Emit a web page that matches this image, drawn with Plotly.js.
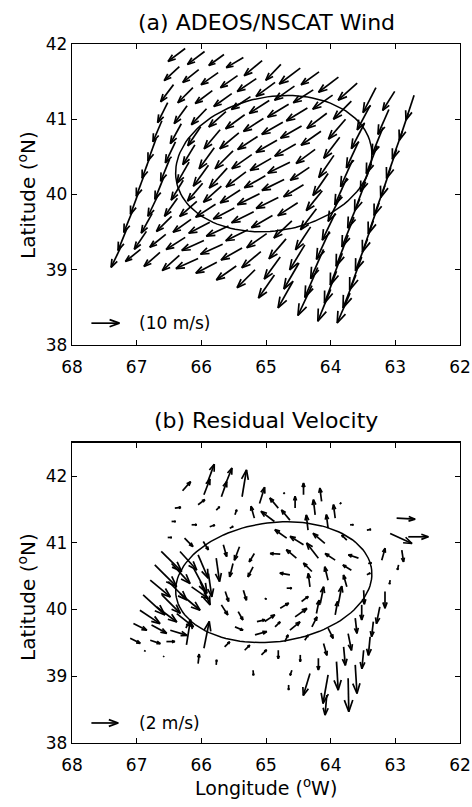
<!DOCTYPE html>
<html><head><meta charset="utf-8">
<script src="https://cdn.plot.ly/plotly-3.0.1.min.js"></script>
<style>html,body{margin:0;padding:0;background:#fff}#chart{width:472px;height:807px}</style>
</head><body><div id="chart"></div>
<script>
// ---------- DATA ----------
// (a) NSCAT wind swath: cell positions = row start + cross-track offset (deg)
const windRowLon = [66.25,66.34,66.43,66.52,66.61,66.70,66.79,66.88,66.97,67.06,67.15,67.24];
const windRowLat = [41.94,41.70,41.46,41.22,40.98,40.74,40.51,40.27,40.03,39.79,39.55,39.31];
const windColDLon = [0,-0.30,-0.60,-0.90,-1.19,-1.48,-1.78,-2.07,-2.37,-2.66,-2.95,-3.24,-3.54];
const windColDLat = [0,-0.04,-0.08,-0.12,-0.16,-0.21,-0.26,-0.31,-0.38,-0.46,-0.52,-0.57,-0.62];
// wind components (m/s), rows x cross-track cells
const windU = [
 [-6.1,-6.1,-5.4,-6.1,-6.4,-5.4,-7.5,-6.4,-7.1,-6.8,-4.6,-4.3,-2.9],
 [-5.4,-5.7,-6.1,-6.1,-6.8,-6.8,-7.1,-7.1,-7.1,-6.4,-4.6,-3.9,-3.2],
 [-4.6,-5.4,-6.1,-6.4,-6.8,-7.1,-7.5,-7.5,-7.1,-6.1,-4.6,-3.9,-3.6],
 [-3.6,-4.6,-5.4,-6.1,-6.8,-7.1,-7.5,-7.5,-7.1,-5.7,-4.3,-3.9,-3.6],
 [-3.2,-3.9,-4.6,-5.7,-6.8,-7.1,-7.5,-7.5,-6.8,-5.4,-4.3,-3.9,-3.6],
 [-2.9,-3.6,-4.3,-5.4,-6.4,-7.1,-7.5,-7.9,-6.8,-5.4,-4.3,-3.9,-3.9],
 [-2.9,-3.2,-4.3,-5.4,-6.4,-7.1,-7.5,-7.9,-7.1,-5.7,-4.6,-4.3,-3.9],
 [-2.9,-3.2,-4.3,-5.4,-6.4,-7.1,-7.9,-7.9,-7.1,-5.7,-4.6,-4.3,-3.9],
 [-2.9,-3.6,-4.6,-6.1,-7.1,-7.5,-7.9,-7.5,-6.4,-5.4,-4.6,-4.3,-4.3],
 [-3.2,-3.9,-5.4,-6.4,-7.5,-7.9,-7.9,-7.1,-6.1,-5.4,-4.6,-4.3,-4.3],
 [-3.2,-4.3,-5.7,-6.8,-7.9,-7.9,-7.5,-6.8,-5.7,-5.4,-4.6,-4.3,-4.6],
 [-3.6,-5.4,-5.7,-6.1,-7.9,-7.5,-7.1,-6.4,-5.7,-5.4,-5.0,-4.6,-4.6]
];
const windV = [
 [-4.6,-4.6,-3.9,-3.6,-5.4,-5.7,-5.7,-4.6,-5.4,-6.1,-8.9,-6.8,-8.9],
 [-5.0,-4.6,-4.3,-4.3,-4.6,-5.0,-5.0,-4.6,-5.0,-6.4,-8.6,-8.9,-9.6],
 [-6.1,-5.4,-4.6,-4.6,-4.6,-4.6,-4.6,-4.6,-5.4,-7.1,-8.9,-9.6,-10.0],
 [-7.1,-6.4,-5.7,-5.4,-5.0,-4.6,-4.3,-4.3,-5.0,-7.5,-9.3,-10.0,-10.4],
 [-7.5,-7.1,-6.8,-6.8,-5.7,-4.6,-4.3,-4.3,-5.0,-7.9,-9.6,-10.0,-10.7],
 [-7.9,-7.5,-7.1,-7.5,-6.4,-5.0,-4.3,-3.9,-4.6,-7.9,-9.6,-10.4,-10.7],
 [-7.9,-7.9,-7.5,-7.5,-7.1,-5.4,-4.3,-3.9,-4.3,-7.1,-9.3,-10.4,-11.1],
 [-7.9,-7.9,-7.1,-6.4,-5.7,-4.6,-3.9,-3.9,-4.6,-7.5,-9.6,-10.7,-11.1],
 [-7.9,-7.5,-6.4,-5.4,-4.6,-3.9,-3.9,-4.3,-6.1,-8.2,-10.0,-11.1,-11.4],
 [-7.9,-7.1,-5.4,-4.6,-3.9,-3.6,-3.9,-5.0,-7.1,-8.9,-10.4,-11.4,-11.8],
 [-7.9,-6.4,-4.6,-4.3,-3.6,-3.6,-4.3,-5.7,-7.9,-9.3,-10.7,-11.4,-11.8],
 [-7.5,-4.3,-5.0,-5.4,-3.6,-3.9,-5.0,-6.4,-8.2,-9.6,-10.7,-11.4,-10.7]
];

// (b) residual velocity: positions (deg W, deg N) and components (m/s)
const resLon = [66.29,65.96,65.91,65.69,65.63,65.37,65.10,66.05,66.41,65.77,65.48,65.18,64.87,64.81,64.55,64.42,64.24,64.14,63.93,63.86,64.73,66.46,66.15,65.87,65.56,66.52,66.26,65.97,65.66,65.41,65.18,
 66.62,66.33,66.72,66.46,66.05,66.79,66.51,66.12,66.90,66.61,66.33,66.02,66.95,66.69,66.38,67.05,66.77,66.48,67.10,66.79,66.54,66.88,66.59,66.23,65.96,66.05,65.77,66.15,65.89,
 64.78,64.53,64.19,63.93,63.57,64.68,64.42,64.09,63.75,64.63,64.35,64.04,64.29,64.04,64.32,63.68,64.63,63.75,64.16,64.22,63.88,63.93,63.49,63.16,65.63,65.35,65.02,65.69,65.43,65.14,65.48,65.17,65.02,64.68,64.45,64.78,64.55,64.86,64.63,64.29,64.71,64.40,65.64,65.33,65.07,65.20,65.20,65.51,65.77,
 62.98,63.08,62.80,63.70,63.44,63.21,62.90,63.42,62.95,63.08,63.44,63.52,63.24,63.62,63.34,64.04,64.11,63.73,63.39,64.81,64.47,64.19,63.80,63.49,64.60,64.32,64.04,63.91,63.62,64.06,63.73,64.65];
const resLat = [41.78,41.72,41.89,41.69,41.87,41.69,41.59,41.57,41.52,41.49,41.42,41.37,41.32,41.52,41.52,41.72,41.42,41.62,41.37,41.58,41.73,41.32,41.27,41.24,41.22,41.08,41.07,41.02,40.97,40.94,40.84,
 40.87,40.87,40.67,40.69,40.82,40.44,40.42,40.62,40.22,40.22,40.24,40.42,39.99,40.04,39.94,39.79,39.77,39.69,39.57,39.54,39.52,39.37,39.29,39.47,39.42,39.19,39.17,40.34,40.54,
 40.83,40.77,40.77,40.74,40.77,41.07,40.97,40.99,41.04,41.34,41.19,41.22,40.57,40.44,40.34,40.59,40.52,40.34,40.09,39.94,40.09,39.92,40.29,40.27,40.27,40.29,40.17,40.07,39.97,39.82,39.74,39.62,39.82,40.32,40.12,40.02,39.89,39.74,39.69,39.74,39.52,39.54,39.44,39.39,39.32,39.09,40.64,40.69,40.77,
 41.37,41.14,41.09,41.27,41.19,40.74,40.89,40.69,40.67,40.44,40.52,40.07,40.04,39.87,39.82,39.72,39.49,39.64,39.59,39.39,39.32,39.27,39.44,39.39,39.09,39.04,39.02,39.22,39.17,38.72,38.97,38.87];
const resU = [0.60,0.45,0.53,0.40,0.50,0.33,0.38,0.50,0.45,0.25,0.13,-0.25,-1.00,-0.63,0.00,0.00,-0.13,-0.13,-0.13,0.10,0.08,0.30,0.38,0.38,0.25,0.30,0.63,0.38,0.25,-0.38,-0.38,
 1.53,1.25,1.63,1.38,0.75,1.50,1.38,1.00,1.63,1.38,1.50,0.75,1.50,1.50,1.25,1.00,1.13,1.25,0.75,0.75,0.63,0.05,0.05,0.30,0.40,0.08,0.03,1.25,0.25,
 -0.75,-0.75,-0.88,-0.75,-0.75,-0.88,-1.00,-0.88,-0.38,-0.63,-0.13,-0.13,-0.63,-0.25,-0.13,-0.63,-0.75,-0.25,0.25,0.20,0.25,0.18,0.05,0.00,0.25,0.23,0.13,0.48,0.35,0.60,0.60,0.88,0.75,0.38,0.50,0.63,0.88,0.38,0.75,0.38,0.25,0.25,0.38,0.38,0.38,0.03,-0.38,-0.25,0.25,
 1.38,1.63,1.50,0.25,0.30,0.25,0.13,0.25,-0.08,-0.05,0.25,0.00,-0.25,0.13,-0.13,0.38,0.25,0.25,-0.13,0.00,0.00,0.00,0.13,-0.13,-0.13,-0.50,-0.38,0.13,0.13,-0.13,0.05,0.00];
const resV = [0.68,1.18,1.43,1.13,1.25,2.00,1.20,0.38,0.05,0.25,0.38,0.88,0.75,0.75,0.88,0.88,1.13,1.00,1.00,0.10,0.10,0.00,0.00,0.13,0.13,0.00,-0.63,-0.63,-0.88,-1.00,-0.63,
 -1.50,-1.38,-1.63,-1.50,-1.75,-1.25,-1.38,-1.88,-1.50,-1.38,-1.25,-1.75,-1.00,-1.13,-1.00,-0.50,-0.63,-0.38,-0.38,-0.25,0.00,0.08,0.05,1.88,2.00,0.70,0.38,-0.88,-1.75,
 0.05,0.63,1.13,0.50,0.25,0.63,0.63,0.75,0.38,0.75,1.13,1.00,0.63,1.00,1.00,0.38,0.13,0.88,1.25,1.00,1.30,1.00,-1.05,-1.25,-0.75,-0.75,-0.08,-0.75,-0.63,0.13,-0.25,0.25,0.50,0.00,0.38,0.38,0.63,0.38,0.63,0.75,0.50,0.38,0.38,0.38,0.38,-0.38,-0.75,-1.00,-1.75,
 -0.08,-0.75,0.00,0.00,0.05,0.88,-0.88,0.05,-0.38,-0.30,0.13,-1.13,-1.25,-1.13,-1.13,-0.75,-0.88,-1.25,-1.38,-0.63,-0.50,-0.88,-1.38,-1.38,-0.38,-1.63,-2.13,-2.13,-2.13,-1.50,-2.50,-0.38];

// eddy outline (center deg W / deg N, semi-axes in deg, tilt in deg)
const eddyCenter = [64.88, 40.41];
const eddySemiAxes = [1.53, 0.89];
const eddyTilt = 10;

// reference vectors
const refSpeed = [10, 2];
const refLabel = ['(10 m/s)', '(2 m/s)'];
const refLon = [67.70, 67.70];
const refLat = [38.29, 38.30];
const refLabelLon = [67.0, 67.0];

const panelTitles = ['(a) ADEOS/NSCAT Wind', '(b) Residual Velocity'];

// ---------- LAYOUT GEOMETRY ----------
const W = 472, H = 807;
const M = {l: 72, r: 12, t: 44, b: 64};
const plotW = W - M.l - M.r, plotH = H - M.t - M.b;
const domA = [0.5694, 1], domB = [0, 0.4296];
const xRange = [68, 62], yRangeA = [38, 42], yRangeB = [38, 42.5];
const pxLon = plotW / Math.abs(xRange[0] - xRange[1]);
const pxLatA = plotH * (domA[1] - domA[0]) / (yRangeA[1] - yRangeA[0]);
const pxLatB = plotH * (domB[1] - domB[0]) / (yRangeB[1] - yRangeB[0]);
const pxPerMS = [2.8, 13.4];   // arrow length in px per m/s (panel a, b)

function quiver(lons, lats, us, vs, k, pxLat) {
  const X = [], Y = [];
  const a = 0.35, b = 0.36;
  for (let i = 0; i < lons.length; i++) {
    const dx = us[i] * k, dy = vs[i] * k;
    const tx = lons[i] - dx / pxLon, ty = lats[i] + dy / pxLat;
    const h1x = -a * (dx + b * dy), h1y = -a * (dy - b * dx);
    const h2x = -a * (dx - b * dy), h2y = -a * (dy + b * dx);
    X.push(lons[i], tx, null, tx - h1x / pxLon, tx, tx - h2x / pxLon, null);
    Y.push(lats[i], ty, null, ty + h1y / pxLat, ty, ty + h2y / pxLat, null);
  }
  return {X, Y};
}

// flatten wind grid
const wLon = [], wLat = [], wU = [], wV = [];
for (let i = 0; i < windRowLon.length; i++) {
  for (let j = 0; j < windColDLon.length; j++) {
    wLon.push(windRowLon[i] + windColDLon[j]);
    wLat.push(windRowLat[i] + windColDLat[j]);
    wU.push(windU[i][j]); wV.push(windV[i][j]);
  }
}

function eddyCurve() {
  const X = [], Y = [];
  const ap = eddySemiAxes[0] * pxLon, bp = eddySemiAxes[1] * pxLatA;
  const th = eddyTilt * Math.PI / 180;
  for (let s = 0; s <= 360; s += 3) {
    const t = s * Math.PI / 180;
    const dxp = ap * Math.cos(t) * Math.cos(th) - bp * Math.sin(t) * Math.sin(th);
    const dyp = ap * Math.cos(t) * Math.sin(th) + bp * Math.sin(t) * Math.cos(th);
    X.push(eddyCenter[0] - dxp / pxLon);
    Y.push(eddyCenter[1] + dyp / pxLatA);
  }
  return {X, Y};
}

const qa = quiver(wLon, wLat, wU, wV, pxPerMS[0], pxLatA);
const qb = quiver(resLon, resLat, resU, resV, pxPerMS[1], pxLatB);
const ra = quiver([refLon[0]], [refLat[0]], [refSpeed[0]], [0], pxPerMS[0], pxLatA);
const rb = quiver([refLon[1]], [refLat[1]], [refSpeed[1]], [0], pxPerMS[1], pxLatB);
const ell = eddyCurve();

const lineStyle = {color: '#000', width: 1.7};
const ellStyle = {color: '#000', width: 1.5};
const traces = [
  {x: qa.X, y: qa.Y, xaxis: 'x', yaxis: 'y', mode: 'lines', line: lineStyle, hoverinfo: 'skip'},
  {x: ell.X, y: ell.Y, xaxis: 'x', yaxis: 'y', mode: 'lines', line: ellStyle, hoverinfo: 'skip'},
  {x: ra.X, y: ra.Y, xaxis: 'x', yaxis: 'y', mode: 'lines', line: lineStyle, hoverinfo: 'skip'},
  {x: qb.X, y: qb.Y, xaxis: 'x2', yaxis: 'y2', mode: 'lines', line: lineStyle, hoverinfo: 'skip'},
  {x: ell.X, y: ell.Y, xaxis: 'x2', yaxis: 'y2', mode: 'lines', line: ellStyle, hoverinfo: 'skip'},
  {x: rb.X, y: rb.Y, xaxis: 'x2', yaxis: 'y2', mode: 'lines', line: lineStyle, hoverinfo: 'skip'}
];

const FONT = 'DejaVu Sans, Arial, sans-serif';
function xax(anchor) {
  return {domain: [0, 1], range: xRange, anchor: anchor, tickvals: [68, 67, 66, 65, 64, 63, 62],
    ticks: 'inside', ticklen: 5, tickwidth: 1, tickcolor: '#000', showline: true, mirror: 'ticks',
    linecolor: '#000', linewidth: 1.3, showgrid: false, zeroline: false, ticklabelstandoff: 6,
    tickfont: {family: FONT, size: 17, color: '#000'}};
}
function yax(anchor, dom, rng, vals) {
  return {domain: dom, range: rng, anchor: anchor, tickvals: vals,
    ticks: 'inside', ticklen: 5, tickwidth: 1, tickcolor: '#000', showline: true, mirror: 'ticks',
    linecolor: '#000', linewidth: 1.3, showgrid: false, zeroline: false,
    tickfont: {family: FONT, size: 17, color: '#000'}};
}

const annotations = [
  {text: panelTitles[0], xref: 'paper', yref: 'paper', x: 0.5, y: (H - M.b - 22.5) / plotH, showarrow: false,
   xanchor: 'center', yanchor: 'middle', font: {family: FONT, size: 22, color: '#000'}},
  {text: panelTitles[1], xref: 'paper', yref: 'paper', x: 0.5, y: (H - M.b - 420) / plotH, showarrow: false,
   xanchor: 'center', yanchor: 'middle', font: {family: FONT, size: 22, color: '#000'}},
  {text: 'Latitude (<sup>o</sup>N)', xref: 'paper', yref: 'paper', x: (27 - M.l) / plotW, y: (H - M.b - 195) / plotH,
   textangle: -90, showarrow: false, xanchor: 'center', yanchor: 'middle', font: {family: FONT, size: 20, color: '#000'}},
  {text: 'Latitude (<sup>o</sup>N)', xref: 'paper', yref: 'paper', x: (27 - M.l) / plotW, y: (H - M.b - 597) / plotH,
   textangle: -90, showarrow: false, xanchor: 'center', yanchor: 'middle', font: {family: FONT, size: 20, color: '#000'}},
  {text: 'Longitude (<sup>o</sup>W)', xref: 'paper', yref: 'paper', x: 0.5, y: (H - M.b - 787) / plotH,
   showarrow: false, xanchor: 'center', yanchor: 'middle', font: {family: FONT, size: 19, color: '#000'}},
  {text: refLabel[0], xref: 'x', yref: 'y', x: refLabelLon[0], y: refLat[0], showarrow: false,
   xanchor: 'left', yanchor: 'middle', font: {family: FONT, size: 17, color: '#000'}},
  {text: refLabel[1], xref: 'x2', yref: 'y2', x: refLabelLon[1], y: refLat[1], showarrow: false,
   xanchor: 'left', yanchor: 'middle', font: {family: FONT, size: 17, color: '#000'}}
];

const layout = {
  width: W, height: H, margin: M, showlegend: false,
  paper_bgcolor: '#fff', plot_bgcolor: '#fff',
  xaxis: xax('y'), yaxis: yax('x', domA, yRangeA, [38, 39, 40, 41, 42]),
  xaxis2: xax('y2'), yaxis2: yax('x2', domB, yRangeB, [38, 39, 40, 41, 42]),
  annotations: annotations
};

Plotly.newPlot('chart', traces, layout, {staticPlot: true, displayModeBar: false});
</script>
</body></html>
